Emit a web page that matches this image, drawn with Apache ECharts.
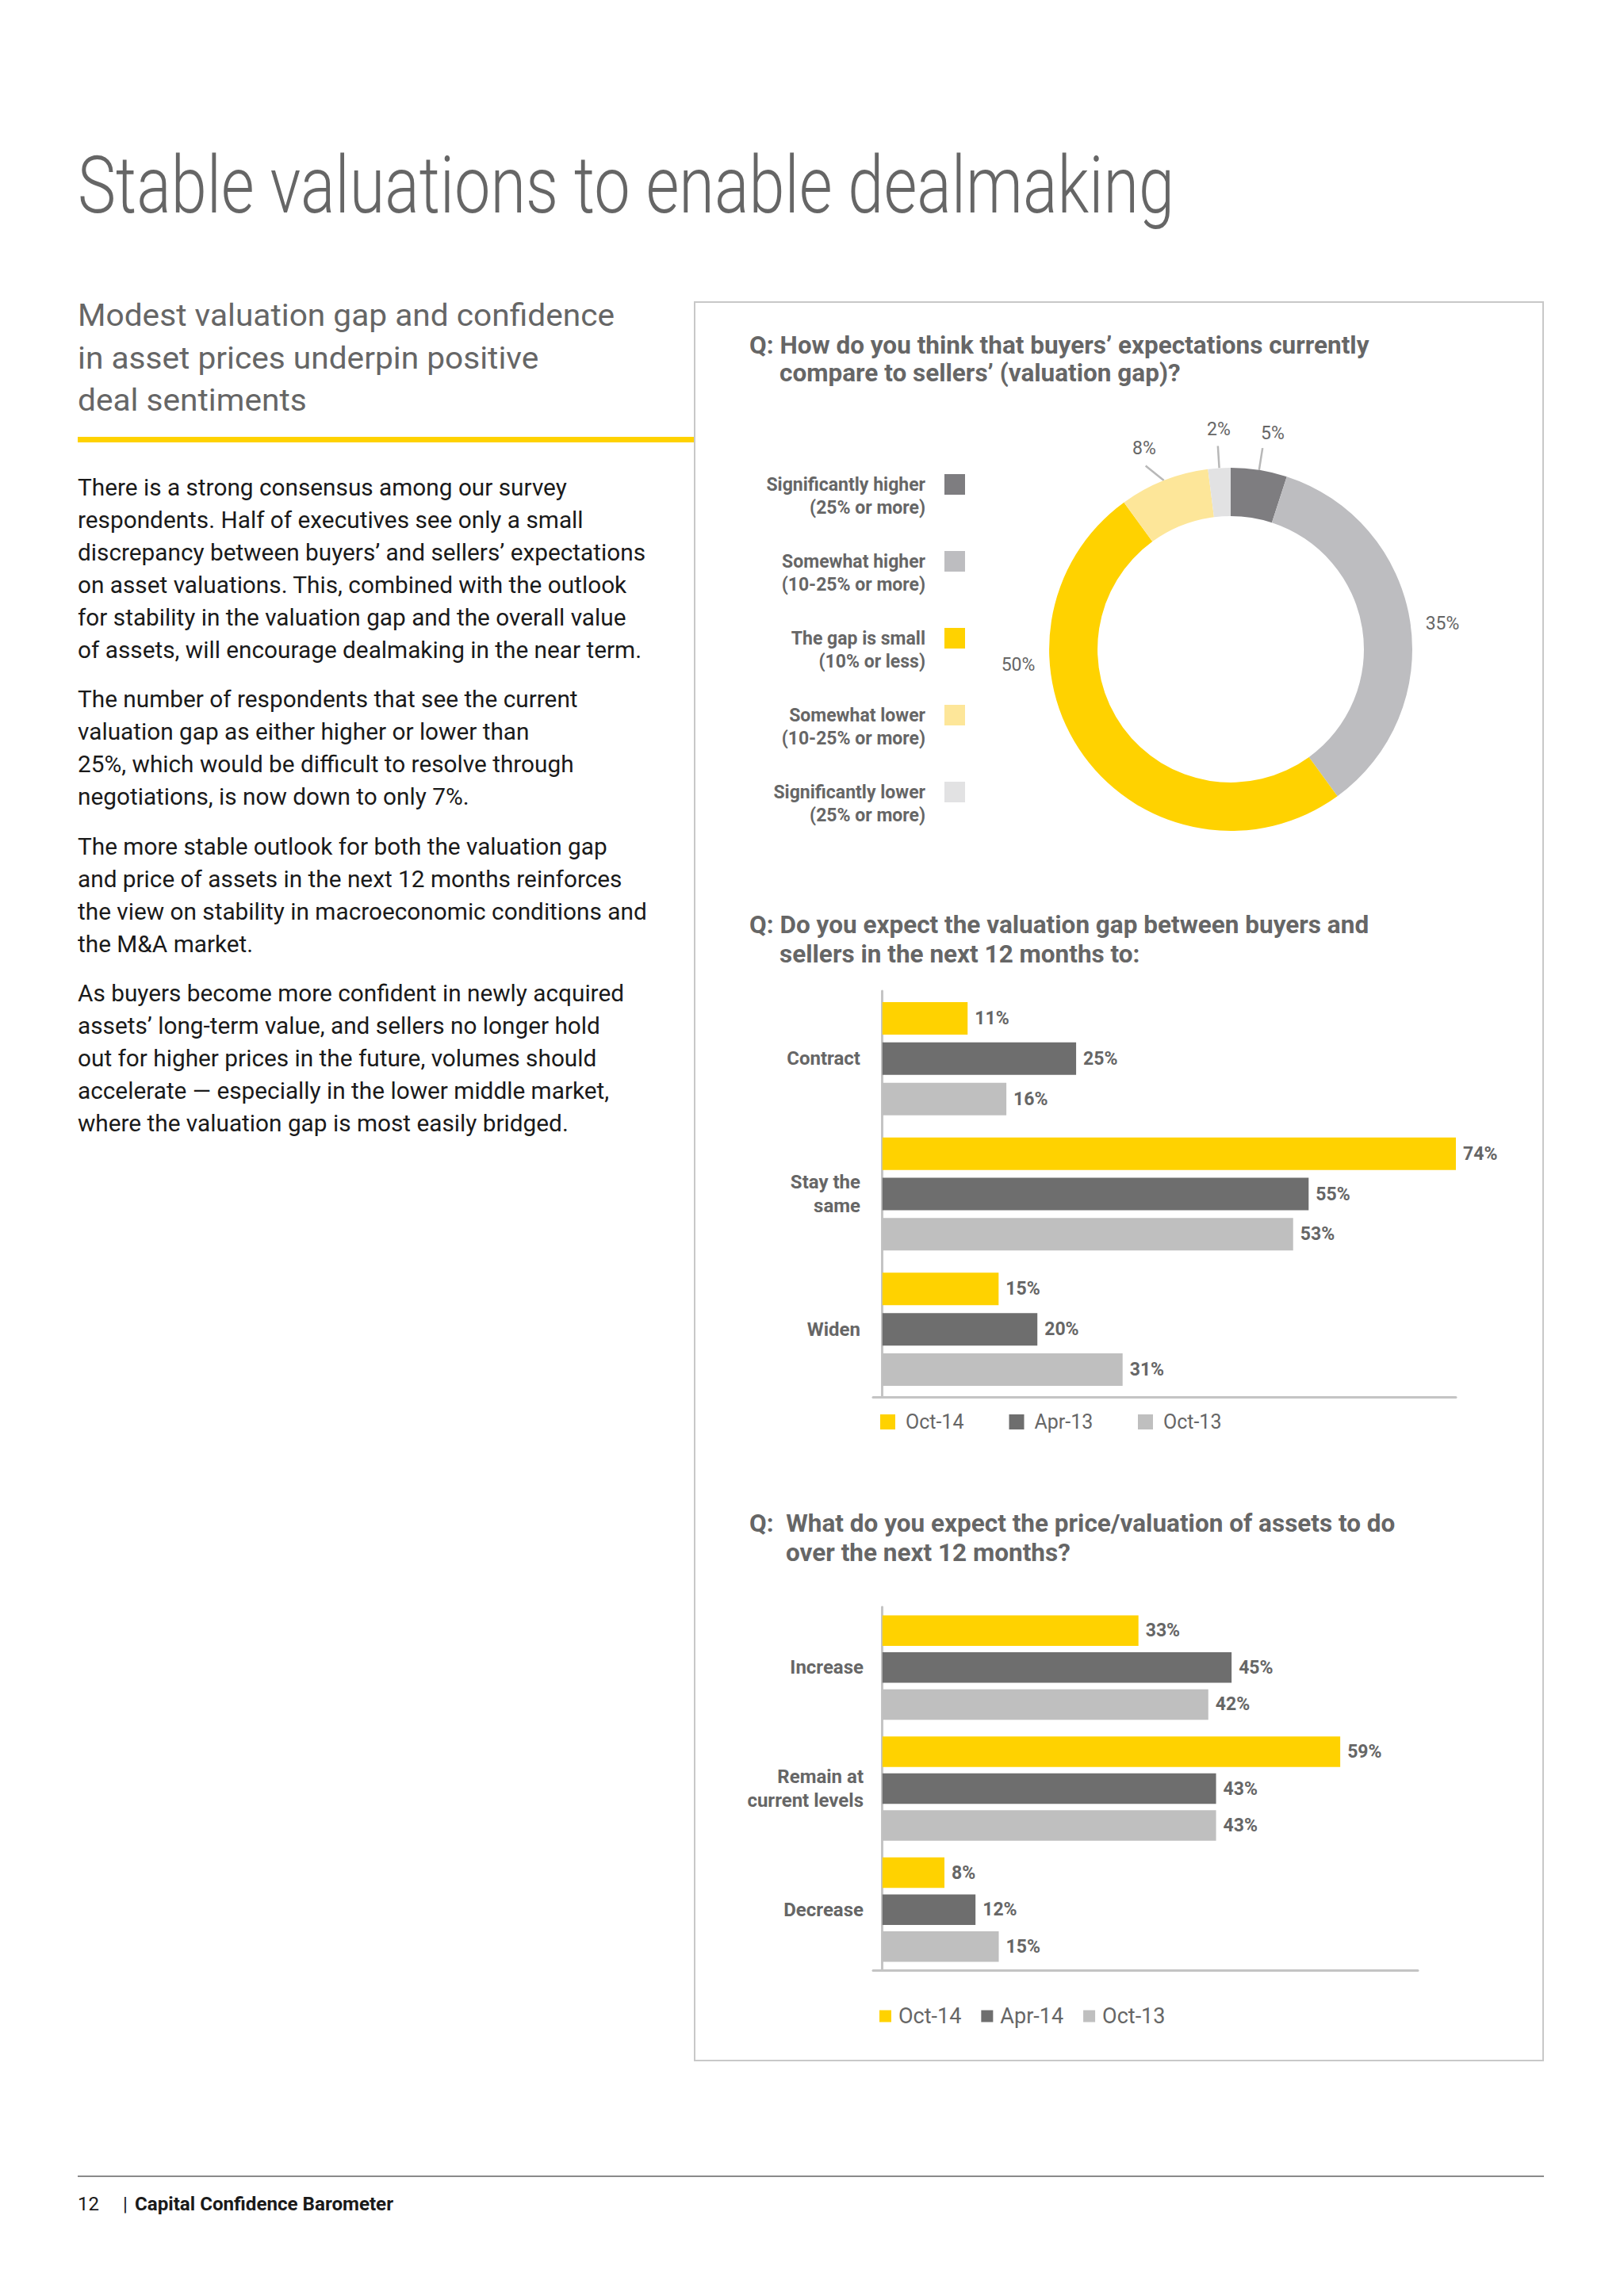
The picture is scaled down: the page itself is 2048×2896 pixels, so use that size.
<!DOCTYPE html>
<html><head><meta charset="utf-8">
<script src="https://cdn.jsdelivr.net/npm/echarts@6/dist/echarts.min.js"></script>
<style>
html,body{margin:0;padding:0;background:#fff;}
#page{position:relative;width:2048px;height:2896px;overflow:hidden;font-family:Roboto,"Noto Sans",sans-serif;}
.abs{position:absolute;white-space:nowrap;transform-origin:0 0;}
#title{left:98px;top:184px;font-size:100px;line-height:100px;font-weight:300;color:#666;}
#sub{left:98px;top:372px;font-size:39px;line-height:53.5px;color:#666;}
#rule{position:absolute;left:98px;top:551px;width:777px;height:7px;background:#ffd200;}
#body{left:98px;top:593.5px;font-size:30px;line-height:41px;color:#1a1a1a;}
#body p{margin:0 0 21.6px 0;}
#frame{position:absolute;left:875px;top:380px;width:1072px;height:2220px;box-sizing:border-box;border:2px solid #c8c8c8;}
#chart{position:absolute;left:875px;top:380px;width:1072px;height:2220px;}
#fline{position:absolute;left:98px;top:2744px;width:1849px;height:2px;background:#8a8a8a;}
.foot{top:2765px;font-size:24px;line-height:30px;color:#1a1a1a;}
</style></head>
<body>
<div id="page">
  <div id="title" class="abs">Stable valuations to enable dealmaking</div>
  <div id="sub" class="abs"><span id="subRef">Modest valuation gap and confidence</span><br>in asset prices underpin positive<br>deal sentiments</div>
  <div id="rule"></div>
  <div id="body" class="abs">
    <p>There is a strong consensus among our survey<br>respondents. Half of executives see only a small<br><span id="bodyRef">discrepancy between buyers’ and sellers’ expectations</span><br>on asset valuations. This, combined with the outlook<br>for stability in the valuation gap and the overall value<br>of assets, will encourage dealmaking in the near term.</p>
    <p>The number of respondents that see the current<br>valuation gap as either higher or lower than<br>25%, which would be difficult to resolve through<br>negotiations, is now down to only 7%.</p>
    <p>The more stable outlook for both the valuation gap<br>and price of assets in the next 12 months reinforces<br>the view on stability in macroeconomic conditions and<br>the M&amp;A market.</p>
    <p>As buyers become more confident in newly acquired<br>assets’ long-term value, and sellers no longer hold<br>out for higher prices in the future, volumes should<br>accelerate — especially in the lower middle market,<br>where the valuation gap is most easily bridged.</p>
  </div>
  <div id="frame"></div>
  <div id="chart"></div>
  <div id="fline"></div>
  <div class="abs foot" style="left:98px;">12</div>
  <div class="abs foot" style="left:155px;">|</div>
  <div id="footText" class="abs foot" style="left:170px;font-weight:bold;">Capital Confidence Barometer</div>
</div>
<script>
// ---- data ----
const pieNames = ['Significantly higher\n(25% or more)', 'Somewhat higher\n(10-25% or more)', 'The gap is small\n(10% or less)', 'Somewhat lower\n(10-25% or more)', 'Significantly lower\n(25% or more)'];
const pieValues = [5, 35, 50, 8, 2];
const gapCategories = ['Contract', 'Stay the\nsame', 'Widen'];
const gapSeriesNames = ['Oct-14', 'Apr-13', 'Oct-13'];
const gapOct14 = [11, 74, 15];
const gapApr13 = [25, 55, 20];
const gapOct13 = [16, 53, 31];
const priceCategories = ['Increase', 'Remain at\ncurrent levels', 'Decrease'];
const priceSeriesNames = ['Oct-14', 'Apr-14', 'Oct-13'];
const priceOct14 = [33, 59, 8];
const priceApr14 = [45, 43, 12];
const priceOct13 = [42, 43, 15];

// ---- fit page text widths ----
function fit(el, refEl, target) {
  const w = refEl.getBoundingClientRect().width;
  if (w > 0) el.style.transform = 'scaleX(' + (target / w) + ')';
}
fit(document.getElementById('title'), document.getElementById('title'), 1383);
fit(document.getElementById('sub'), document.getElementById('subRef'), 677);
fit(document.getElementById('body'), document.getElementById('bodyRef'), 716);
fit(document.getElementById('footText'), document.getElementById('footText'), 326);

// ---- chart ----
const FONT = 'Roboto, "Noto Sans", sans-serif';
const GREY_TXT = '#666666';
const pieColors = ['#7e7d80', '#bdbdc0', '#ffd200', '#fde699', '#e2e2e3'];
const barColors = {'Oct-14': '#ffd200', 'Apr-13': '#6e6e6e', 'Apr-14': '#6e6e6e', 'Oct-13': '#bfbfbf'};
// label text centres (px in the chart box) for the pie value labels
const pieLabelPos = [[730, 166], [944, 406], [409, 458], [568, 185], [662, 161]];

const chart = echarts.init(document.getElementById('chart'), null, {renderer: 'svg'});

function qText(x, y, t) {
  return {type: 'text', x: x, y: y, style: {text: t, fill: GREY_TXT, font: 'bold 31.5px ' + FONT, verticalAlign: 'middle'}};
}

function barSeries(name, data, gi, bw, gap) {
  return {
    type: 'bar', name: name, data: data, xAxisIndex: gi, yAxisIndex: gi,
    barWidth: bw, barGap: gap, itemStyle: {color: barColors[name]},
    label: {show: true, position: 'right', distance: 9, formatter: '{c}%', fontSize: 23, fontWeight: 'bold', color: GREY_TXT, fontFamily: FONT},
    silent: true, animation: false
  };
}

const axisLineStyle = {show: true, lineStyle: {color: '#c4c4c4', width: 3}};

const option = {
  animation: false,
  textStyle: {fontFamily: FONT},
  graphic: [
    qText(70, 55, 'Q: How do you think that buyers’ expectations currently'),
    qText(108, 90, 'compare to sellers’ (valuation gap)?'),
    qText(70, 786, 'Q: Do you expect the valuation gap between buyers and'),
    qText(108, 823, 'sellers in the next 12 months to:'),
    qText(70, 1541, 'Q:  What do you expect the price/valuation of assets to do'),
    qText(116, 1578, 'over the next 12 months?')
  ],
  legend: [
    {
      data: pieNames, orient: 'vertical', align: 'right', right: 730, top: 186.75, padding: 0,
      itemWidth: 26, itemHeight: 26, itemGap: 8.5, icon: 'rect', selectedMode: false,
      formatter: function (n) { return '\u00a0\n' + n; },
      textStyle: {fontSize: 23, fontWeight: 'bold', color: GREY_TXT, lineHeight: 29.5, padding: [0, 19, 0, 0], fontFamily: FONT}
    },
    {
      data: gapSeriesNames, orient: 'horizontal', left: 235, top: 1401, padding: 0,
      itemWidth: 19, itemHeight: 19, itemGap: 56.5, icon: 'rect', selectedMode: false,
      textStyle: {fontSize: 25, color: GREY_TXT, lineHeight: 25, width: 74, padding: [0, 0, 0, 8], fontFamily: FONT}
    },
    {
      data: priceSeriesNames, orient: 'horizontal', left: 234, top: 2149, padding: 0,
      itemWidth: 15, itemHeight: 15, itemGap: 25, icon: 'rect', selectedMode: false,
      textStyle: {fontSize: 27, color: GREY_TXT, lineHeight: 28, width: 78, padding: [0, 0, 0, 4], fontFamily: FONT}
    }
  ],
  grid: [
    {left: 226, top: 870, width: 735, height: 512, containLabel: false},
    {left: 226, top: 1647, width: 687, height: 458, containLabel: false}
  ],
  xAxis: [
    {type: 'value', gridIndex: 0, min: -1.2, max: 74, axisLine: axisLineStyle, axisTick: {show: false}, axisLabel: {show: false}, splitLine: {show: false}},
    {type: 'value', gridIndex: 1, min: -1.2, max: 69, axisLine: axisLineStyle, axisTick: {show: false}, axisLabel: {show: false}, splitLine: {show: false}}
  ],
  yAxis: [
    {type: 'category', gridIndex: 0, data: gapCategories, inverse: true, axisLine: axisLineStyle, axisTick: {show: false},
      axisLabel: {margin: 16, fontSize: 24, fontWeight: 'bold', color: GREY_TXT, lineHeight: 30, align: 'right', fontFamily: FONT}},
    {type: 'category', gridIndex: 1, data: priceCategories, inverse: true, axisLine: axisLineStyle, axisTick: {show: false},
      axisLabel: {margin: 12, fontSize: 24, fontWeight: 'bold', color: GREY_TXT, lineHeight: 30, align: 'right', fontFamily: FONT}}
  ],
  series: [
    {
      type: 'pie', name: 'gap', center: [677, 439], radius: [168, 229], startAngle: 90, clockwise: true,
      silent: true, animation: false,
      data: pieNames.map(function (n, i) { return {name: n, value: pieValues[i], itemStyle: {color: pieColors[i]}}; }),
      label: {show: true, position: 'outside', formatter: '{c}%', fontSize: 23, color: GREY_TXT, fontFamily: FONT},
      labelLine: {show: true, length: 28, length2: 0, lineStyle: {color: '#b8b8b8', width: 2.5}},
      labelLayout: function (p) {
        const pos = pieLabelPos[p.dataIndex];
        const out = {x: pos[0], y: pos[1], align: 'center', verticalAlign: 'middle'};
        if (p.labelLinePoints) out.labelLinePoints = p.labelLinePoints;
        return out;
      }
    },
    barSeries(gapSeriesNames[0], gapOct14, 0, 41, '24%'),
    barSeries(gapSeriesNames[1], gapApr13, 0, 41, '24%'),
    barSeries(gapSeriesNames[2], gapOct13, 0, 41, '24%'),
    barSeries(priceSeriesNames[0], priceOct14, 1, 38.5, '21%'),
    barSeries(priceSeriesNames[1], priceApr14, 1, 38.5, '21%'),
    barSeries(priceSeriesNames[2], priceOct13, 1, 38.5, '21%')
  ]
};
// the two large slices have no guide line
option.series[0].data[1].labelLine = {show: false};
option.series[0].data[2].labelLine = {show: false};
chart.setOption(option);
</script>
</body></html>
